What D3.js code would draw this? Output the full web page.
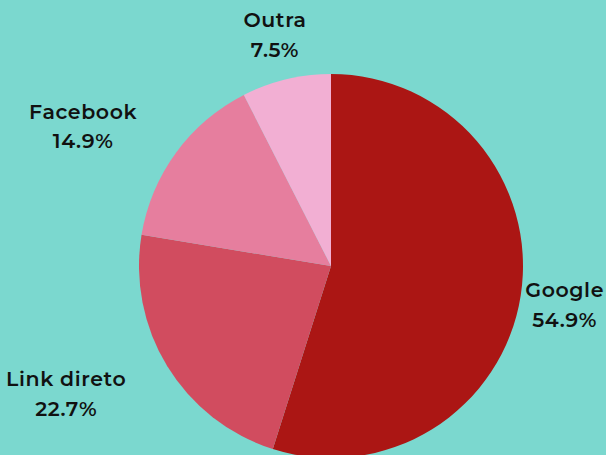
<!DOCTYPE html>
<html><head><meta charset="utf-8">
<script src="https://cdn.jsdelivr.net/npm/d3@7"></script>
<style>html,body{margin:0;padding:0;background:#7bd8cf;overflow:hidden}</style>
</head><body>
<svg id="c" width="606" height="455"></svg>
<script>
const categories = ["Google", "Link direto", "Facebook", "Outra"];
const values = [54.9, 22.7, 14.9, 7.5];
const colors = ["#ab1614", "#d14c5f", "#e67e9e", "#f2afd3"];

const svg = d3.select("#c");
const W = 606;
const cx = 331, cy = 266, R = 192;
const g = svg.append("g").attr("transform", `translate(${cx},${cy})`);
const data = categories.map((c, i) => ({name: c, value: values[i], color: colors[i]}));
const pie = d3.pie().value(d => d.value).sort(null);
const arc = d3.arc().innerRadius(0).outerRadius(R);
const labelArc = d3.arc().innerRadius(240).outerRadius(240);
const arcs = pie(data);
g.selectAll("path").data(arcs).join("path")
  .attr("d", arc).attr("fill", d => d.data.color);

const labels = g.selectAll("g.lab").data(arcs).join("g").attr("class", "lab");
labels.each(function(d) {
  const el = d3.select(this);
  const t = el.append("text")
    .attr("text-anchor", "middle")
    .attr("font-family", "Montserrat, 'Open Sans', sans-serif")
    .attr("font-weight", 600)
    .attr("font-size", 20.5)
    .attr("letter-spacing", 0.6)
    .attr("fill", "#111");
  t.append("tspan").attr("x", 0).attr("y", -13).attr("dy", "0.35em").text(d.data.name);
  t.append("tspan").attr("x", 0).attr("y", 17).attr("dy", "0.35em").text(d.data.value.toFixed(1) + "%");
  const [x, y] = labelArc.centroid(d);
  const w = t.node().getBBox().width;
  const mid = (d.startAngle + d.endAngle) / 2;
  let ox = x;
  if (Math.sin(mid) < -0.5) ox = x - w / 2;
  const maxX = W - 2 - cx - w / 2;
  if (ox > maxX) ox = maxX;
  el.attr("transform", `translate(${ox},${y})`);
});
</script>
</body></html>
